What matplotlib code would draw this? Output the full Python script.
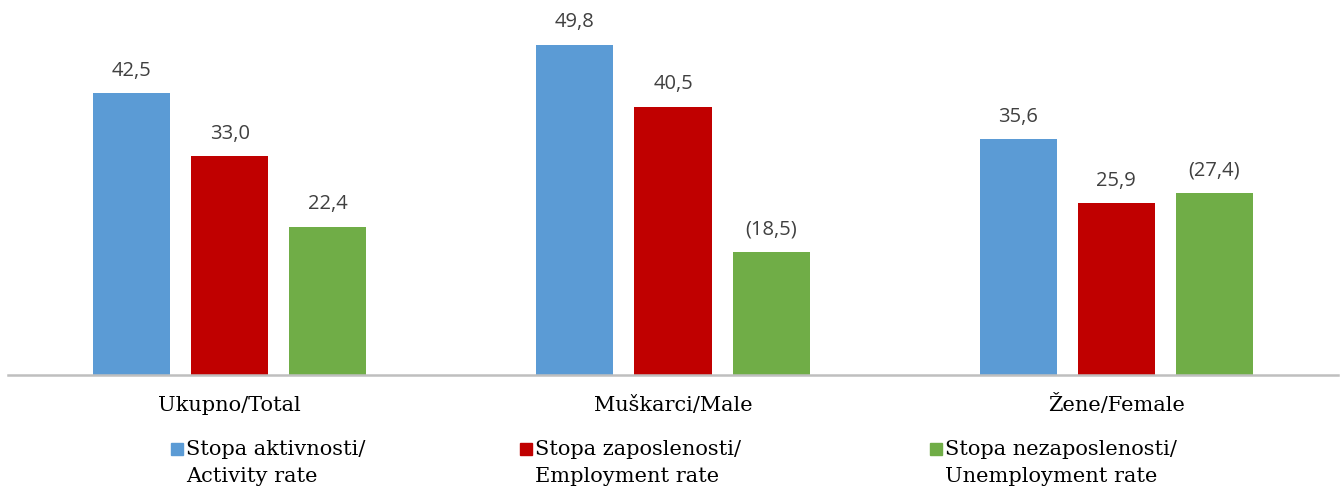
import matplotlib
matplotlib.use("Agg")
import matplotlib.pyplot as plt
from matplotlib.patches import Rectangle
import numpy as np

categories = ["Ukupno/Total", "Muškarci/Male", "Žene/Female"]
series_names = ["Stopa aktivnosti/\nActivity rate",
                "Stopa zaposlenosti/\nEmployment rate",
                "Stopa nezaposlenosti/\nUnemployment rate"]
activity = [42.5, 49.8, 35.6]
employment = [33.0, 40.5, 25.9]
unemployment = [22.4, 18.5, 27.4]
activity_labels = ["42,5", "49,8", "35,6"]
employment_labels = ["33,0", "40,5", "25,9"]
unemployment_labels = ["22,4", "(18,5)", "(27,4)"]

colors = ["#5B9BD5", "#C00000", "#70AD47"]

W, H = 1340, 491
fig = plt.figure(figsize=(W / 100, H / 100), dpi=100)
ax = fig.add_axes([8 / W, 116 / H, 1330 / W, (375 - 10.5) / H])

x = np.arange(len(categories))
bw = 77 / 443
step = 98 / 443
serif = ["DejaVu Serif"]
sans = ["Open Sans", "DejaVu Sans"]

all_vals = [activity, employment, unemployment]
all_labs = [activity_labels, employment_labels, unemployment_labels]
for i, (vals, labs) in enumerate(zip(all_vals, all_labs)):
    bars = ax.bar(x + (i - 1) * step, vals, width=bw, color=colors[i], zorder=2)
    for b, lab in zip(bars, labs):
        ax.annotate(lab, (b.get_x() + b.get_width() / 2, b.get_height()),
                    xytext=(0, 9), textcoords="offset points",
                    ha="center", va="bottom", fontsize=14.5, color="#404040",
                    family=sans)

ax.set_xlim(-0.5, 2.5)
ax.set_ylim(0, 55)
ax.set_yticks([])
ax.set_xticks(x)
ax.set_xticklabels(categories, family=serif, fontsize=15, color="#000000")
for t in ax.get_xticklabels():
    t.set_verticalalignment("baseline")
ax.tick_params(axis="x", length=0, pad=26)
for s in ["top", "right", "left"]:
    ax.spines[s].set_visible(False)
ax.spines["bottom"].set_color("#BFBFBF")
ax.spines["bottom"].set_linewidth(1.8)

# legend (manual)
leg_x = [171, 520, 930]
for lx, name, c in zip(leg_x, series_names, colors):
    fig.patches.append(Rectangle((lx / W, (H - 455) / H), 12 / W, 12 / H,
                                 transform=fig.transFigure, color=c))
    fig.text((lx + 15) / W, (H - 440) / H, name, family=serif, fontsize=15,
             va="top", ha="left", linespacing=1.5)

fig.savefig("out.png", dpi=100)
